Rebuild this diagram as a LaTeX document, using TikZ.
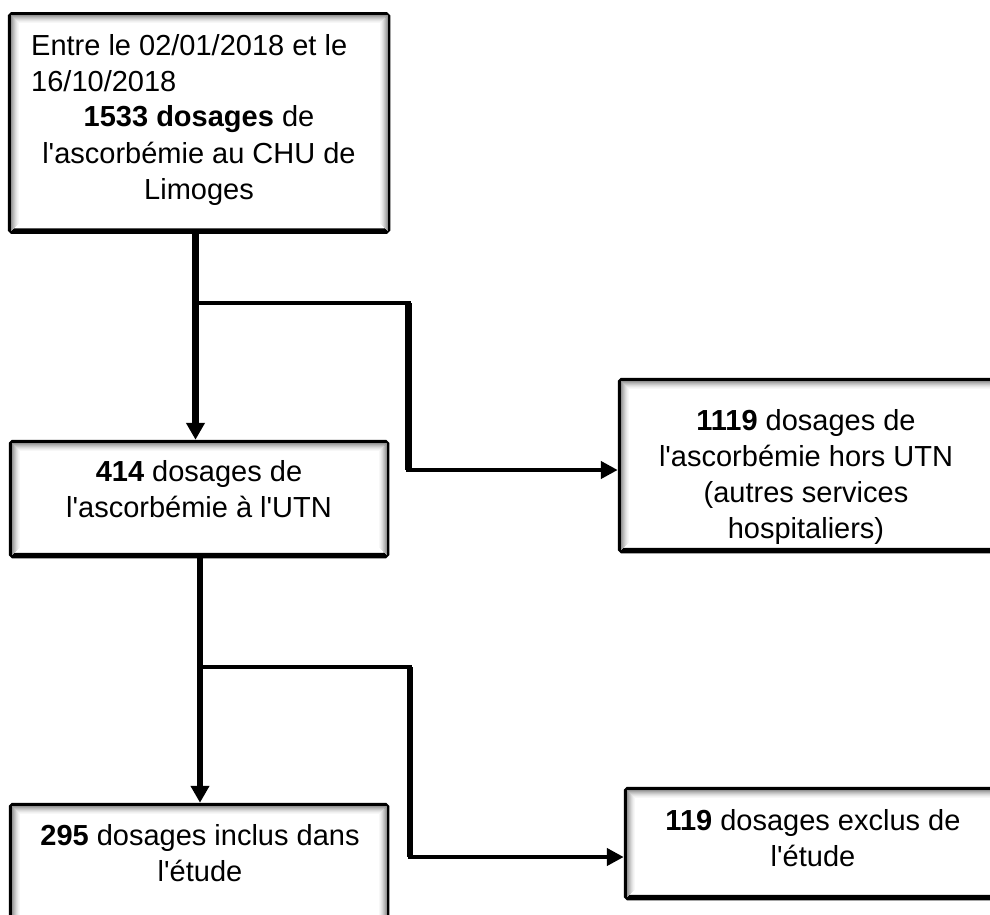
\documentclass[tikz,border=0pt]{standalone}
\usepackage{fontspec}
\setmainfont{Liberation Sans}[Ligatures=TeXOff]
\usetikzlibrary{arrows.meta}
\begin{document}
\begin{tikzpicture}[x=1pt,y=-1pt,
  box/.style={draw=black, line width=5.5pt, fill=white, inner sep=0pt, rounded corners=1.5pt},
  txt/.style={font=\fontsize{29}{36.5}\selectfont, align=center, inner sep=0pt},
  hconn/.style={line width=4.5pt, line cap=rect},
  vconn/.style={line width=6.5pt},
  harr/.style={hconn, -{Triangle[length=17pt,width=17pt]}},
  varr/.style={vconn, -{Triangle[length=17pt,width=18pt]}}]
\useasboundingbox[fill=white] (0,0) rectangle (990,915);
% boxes
\node[box, minimum width=377pt, minimum height=216pt] (b1) at (199,123) {};
\node[box, minimum width=375pt, minimum height=113pt] (b2) at (199,499) {};
\node[box, minimum width=377pt, minimum height=170pt] (b3) at (809,465.5) {};
\node[box, minimum width=375pt, minimum height=117pt] (b4) at (199,864) {};
\node[box, minimum width=371pt, minimum height=108pt] (b5) at (812,843.5) {};
% soft inner shadows
\foreach \n in {b1,b2,b3,b4,b5}{
  \foreach \d/\c in {3.25/42,4.25/34,5.25/27,6.25/21,7.25/15,8.25/10,9.25/6,10.25/3}{
    \draw[black!\c, line width=1pt, line join=round]
      ([shift={(\d,-\d)}]\n.south west) -- ([shift={(\d,\d)}]\n.north west)
      -- ([shift={(-\d,\d)}]\n.north east) -- ([shift={(-\d,-\d)}]\n.south east);
  }
}
% texts
\node[txt, anchor=west, align=left] (t1a) at (31,63) {Entre le 02/01/2018 et le\\16/10/2018};
\node[txt] (t1b) at (199,156) {\textbf{1533 dosages} de\\l'ascorbémie au CHU de\\Limoges};
\node[txt] (t2) at (199,489) {\textbf{414} dosages de\\l'ascorbémie à l'UTN};
\node[txt, font=\fontsize{29}{36}\selectfont] (t3) at (806,477) {\textbf{1119} dosages de\\l'ascorbémie hors UTN\\(autres services\\hospitaliers)};
\node[txt] (t4) at (200,853) {\textbf{295} dosages inclus dans\\l'étude};
\node[txt] (t5) at (813,838) {\textbf{119} dosages exclus de\\l'étude};
% connectors
\coordinate (j1) at (195.5,303);
\coordinate (m1) at (408.5,303);
\coordinate (k1) at (408.5,470);
\draw[varr] (b1.south -| j1) -- (b2.north -| j1);
\draw[hconn] (j1) -- (m1);
\draw[vconn] (m1) -- (k1);
\draw[harr] (k1) -- (k1 -| b3.west);
\coordinate (j2) at (200,667);
\coordinate (m2) at (410,667);
\coordinate (k2) at (410,857);
\draw[varr] (b2.south -| j2) -- (b4.north -| j2);
\draw[hconn] (j2) -- (m2);
\draw[vconn] (m2) -- (k2);
\draw[harr] (k2) -- (k2 -| b5.west);
\end{tikzpicture}
\end{document}
